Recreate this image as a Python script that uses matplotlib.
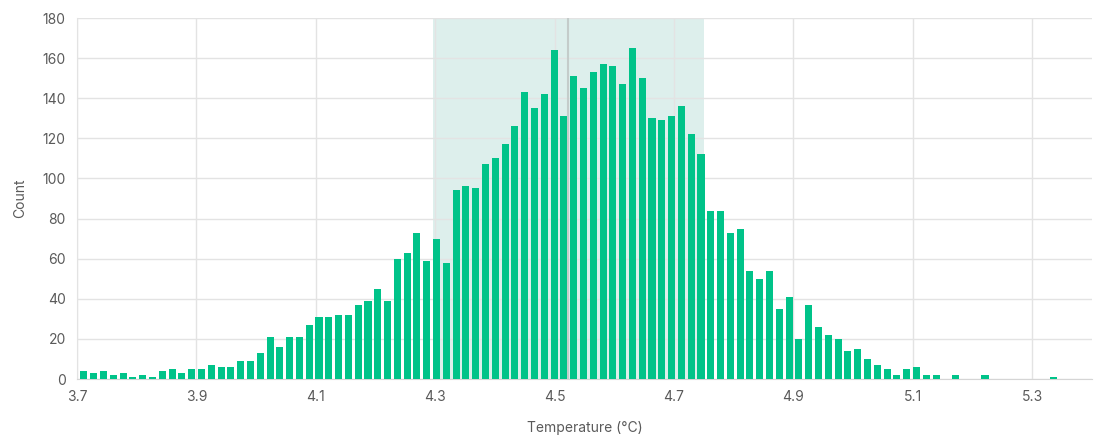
import numpy as np
import matplotlib
matplotlib.use("Agg")
import matplotlib.pyplot as plt

plt.rcParams['font.family'] = ['Inter', 'DejaVu Sans']

# histogram of temperatures, 100 bins
bin_start = 3.7035
bin_width = 0.016405
counts = [4, 3, 4, 2, 3, 1, 2, 1, 4, 5,
          3, 5, 5, 7, 6, 6, 9, 9, 13, 21,
          16, 21, 21, 27, 31, 31, 32, 32, 37, 39,
          45, 39, 60, 63, 73, 59, 70, 58, 94, 96,
          95, 107, 110, 117, 126, 143, 135, 142, 164, 131,
          151, 145, 153, 157, 156, 147, 165, 150, 130, 129,
          131, 136, 122, 112, 84, 84, 73, 75, 54, 50,
          54, 35, 41, 20, 37, 26, 22, 20, 14, 15,
          10, 7, 5, 2, 5, 6, 2, 2, 0, 2,
          0, 0, 2, 0, 0, 0, 0, 0, 0, 1]
band_lo, band_hi = 4.297, 4.750
center_line = 4.523
x_ticks = [3.7, 3.9, 4.1, 4.3, 4.5, 4.7, 4.9, 5.1, 5.3]
y_ticks = list(range(0, 181, 20))

green = '#00C389'
grid_c = '#E3E3E3'
text_c = '#5A5A5A'

fig = plt.figure(figsize=(10.95, 4.37), dpi=100)
ax = fig.add_axes([0.0703, 0.1327, 0.9274, 0.8261])

centers = bin_start + bin_width * (np.arange(len(counts)) + 0.5)
ax.axvspan(band_lo, band_hi, color='#DDEFEC', zorder=0, lw=0)
ax.axvline(center_line, color='#C4CCCA', lw=1.5, zorder=1)
ax.bar(centers, counts, width=bin_width * 0.72, color=green, zorder=3)

ax.set_xlim(3.7, 5.401)
ax.set_ylim(0, 180)
ax.set_xticks(x_ticks)
ax.set_xticklabels([f'{t:.1f}' for t in x_ticks])
ax.set_yticks(y_ticks)

ax.grid(True, color=grid_c, lw=1, zorder=0.5)
ax.set_axisbelow(True)
for s in ['top', 'right']:
    ax.spines[s].set_visible(False)
ax.spines['left'].set_color(grid_c)
ax.spines['bottom'].set_color('#D5D5D5')
ax.tick_params(length=0, colors=text_c, labelsize=10, pad=8)

ax.set_xlabel('Temperature (°C)', color=text_c, fontsize=10, labelpad=12)
ax.set_ylabel('Count', color=text_c, fontsize=10, labelpad=11)

fig.savefig('out.png', dpi=100)
